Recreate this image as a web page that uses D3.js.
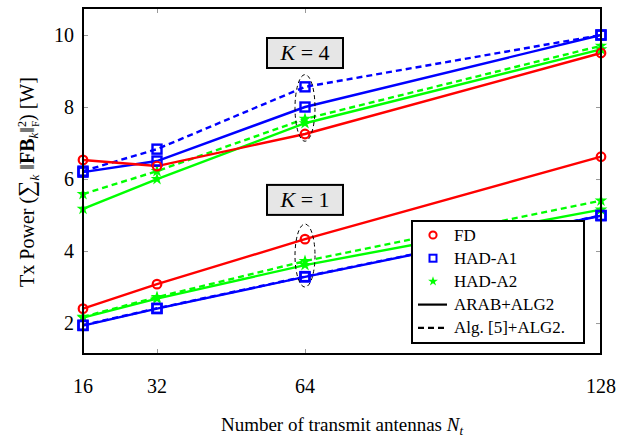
<!DOCTYPE html>
<html lang="en">
  <head>
    <meta charset="UTF-8" />
    <title>Tx power vs antennas</title>
    <script src="https://d3js.org/d3.v7.min.js"></script>
    <style>
      body { margin: 0; background: #fff; }
    </style>
  </head>
  <body>
    <svg width="630" height="440" font-family="'Liberation Serif', 'Times New Roman', serif"></svg>
    <script>
      // data
      const antennas = [16, 32, 64, 128];
      const xTicks = [16, 32, 64, 128];
      const yTicks = [2, 4, 6, 8, 10];

      // K = 4
      const fdK4 = [6.53, 6.36, 7.25, 9.5];
      const a1ArabK4 = [6.19, 6.5, 8.0, 10.0];
      const a1AlgK4 = [6.22, 6.83, 8.56, 10.0];
      const a2ArabK4 = [5.17, 6.0, 7.55, 9.6];
      const a2AlgK4 = [5.58, 6.22, 7.67, 9.7];
      // K = 1
      const fdK1 = [2.4, 3.08, 4.33, 6.62];
      const a1ArabK1 = [1.93, 2.4, 3.28, 4.98];
      const a1AlgK1 = [1.94, 2.41, 3.29, 4.99];
      const a2ArabK1 = [2.15, 2.68, 3.61, 5.15];
      const a2AlgK1 = [2.17, 2.72, 3.72, 5.4];

      const legendLabels = ["FD", "HAD-A1", "HAD-A2", "ARAB+ALG2", "Alg. [5]+ALG2."];

      const series = [
        { v: a2AlgK4, color: "#00ff00", mark: "star", dash: true },
        { v: a2ArabK4, color: "#00ff00", mark: "star", dash: false },
        { v: a1AlgK4, color: "#0000ff", mark: "square", dash: true },
        { v: a1ArabK4, color: "#0000ff", mark: "square", dash: false },
        { v: fdK4, color: "#ff0000", mark: "circle", dash: false },
        { v: a2AlgK1, color: "#00ff00", mark: "star", dash: true },
        { v: a2ArabK1, color: "#00ff00", mark: "star", dash: false },
        { v: a1AlgK1, color: "#0000ff", mark: "square", dash: true },
        { v: a1ArabK1, color: "#0000ff", mark: "square", dash: false },
        { v: fdK1, color: "#ff0000", mark: "circle", dash: false },
      ];

      const svg = d3.select("svg");
      const mLeft = 83, mTop = 8, w = 518, h = 346;

      const x = d3.scaleLinear().domain([16, 128]).range([mLeft, mLeft + w]);
      const y = d3.scaleLinear().domain([1.14, 10.75]).range([mTop + h, mTop]);

      //ticks (inside, gray) on all sides
      const ax = svg.append("g");
      ax.append("g")
        .attr("transform", `translate(0,${mTop + h})`)
        .call(d3.axisBottom(x).tickValues(xTicks).tickSize(-5).tickFormat(""));
      ax.append("g")
        .attr("transform", `translate(0,${mTop})`)
        .call(d3.axisTop(x).tickValues(xTicks).tickSize(-5).tickFormat(""));
      ax.append("g")
        .attr("transform", `translate(${mLeft},0)`)
        .call(d3.axisLeft(y).tickValues(yTicks).tickSize(-5).tickFormat(""));
      ax.append("g")
        .attr("transform", `translate(${mLeft + w},0)`)
        .call(d3.axisRight(y).tickValues(yTicks).tickSize(-5).tickFormat(""));
      ax.selectAll(".domain").remove();
      ax.selectAll(".tick line").attr("stroke", "#999").attr("stroke-width", 1);

      // tick labels
      svg.append("g").selectAll("text").data(xTicks).join("text")
        .attr("x", (d) => x(d)).attr("y", 393)
        .attr("text-anchor", "middle")
        .attr("font-size", 20)
        .text((d) => d);
      svg.append("g").selectAll("text").data(yTicks).join("text")
        .attr("x", 74).attr("y", (d) => y(d) + 6.5)
        .attr("text-anchor", "end")
        .attr("font-size", 20)
        .text((d) => d);

      // lines
      const line = d3.line().x((d, i) => x(antennas[i])).y((d) => y(d));
      const plot = svg.append("g");
      series.forEach((s) => {
        plot.append("path")
          .attr("d", line(s.v))
          .attr("fill", "none")
          .attr("stroke", s.color)
          .attr("stroke-width", 2.4)
          .attr("stroke-dasharray", s.dash ? "6,4" : null);
      });

      function drawMark(g, kind, color, cx, cy) {
        if (kind === "circle") {
          g.append("circle").attr("cx", cx).attr("cy", cy).attr("r", 4.3)
            .attr("fill", "none").attr("stroke", color).attr("stroke-width", 2.2);
        } else if (kind === "square") {
          g.append("rect").attr("x", cx - 4.5).attr("y", cy - 4.5)
            .attr("width", 9).attr("height", 9)
            .attr("fill", "none").attr("stroke", color).attr("stroke-width", 2.4);
        } else {
          g.append("path")
            .attr("d", d3.symbol(d3.symbolStar, 50)())
            .attr("transform", `translate(${cx},${cy})`)
            .attr("fill", color);
        }
      }
      series.forEach((s) => {
        s.v.forEach((d, i) => drawMark(plot, s.mark, s.color, x(antennas[i]), y(d)));
      });

      // dashed ellipses at Nt = 64
      const ellipses = [[7.05, 8.9], [3.0, 4.75]];
      svg.append("g").selectAll("ellipse").data(ellipses).join("ellipse")
        .attr("cx", x(64))
        .attr("cy", (d) => (y(d[0]) + y(d[1])) / 2)
        .attr("rx", 10)
        .attr("ry", (d) => (y(d[0]) - y(d[1])) / 2)
        .attr("fill", "none")
        .attr("stroke", "#000")
        .attr("stroke-width", 1)
        .attr("stroke-dasharray", "4,3");

      // K labels
      const kBoxes = [{ k: 4, v: 9.5 }, { k: 1, v: 5.42 }];
      kBoxes.forEach((b) => {
        const cx = x(64), cy = y(b.v);
        svg.append("rect")
          .attr("x", cx - 38).attr("y", cy - 15)
          .attr("width", 76).attr("height", 30)
          .attr("fill", "#e6e6e6").attr("stroke", "#000").attr("stroke-width", 2);
        const t = svg.append("text")
          .attr("x", cx).attr("y", cy + 7)
          .attr("text-anchor", "middle")
          .attr("font-size", 22);
        t.append("tspan").attr("font-style", "italic").text("K");
        t.append("tspan").text(" = " + b.k);
      });

      // frame
      svg.append("rect")
        .attr("x", mLeft).attr("y", mTop).attr("width", w).attr("height", h)
        .attr("fill", "none").attr("stroke", "#000").attr("stroke-width", 2);

      // legend
      const lg = svg.append("g").attr("transform", "translate(412,221)");
      lg.append("rect").attr("width", 172).attr("height", 122)
        .attr("fill", "#fff").attr("stroke", "#000").attr("stroke-width", 2);
      const legendMarks = [
        { kind: "circle", color: "#ff0000" },
        { kind: "square", color: "#0000ff" },
        { kind: "star", color: "#00ff00" },
        { kind: "solid" },
        { kind: "dashed" },
      ];
      legendLabels.forEach((lab, i) => {
        const ly = 14 + i * 23.2;
        const m = legendMarks[i];
        if (m.kind === "solid" || m.kind === "dashed") {
          lg.append("line").attr("x1", 6).attr("x2", 35).attr("y1", ly).attr("y2", ly)
            .attr("stroke", "#000").attr("stroke-width", 2.2)
            .attr("stroke-dasharray", m.kind === "dashed" ? "6,4" : null);
        } else {
          const mg = lg.append("g");
          if (m.kind === "circle") {
            mg.append("circle").attr("cx", 21).attr("cy", ly).attr("r", 3.6)
              .attr("fill", "none").attr("stroke", m.color).attr("stroke-width", 2);
          } else if (m.kind === "square") {
            mg.append("rect").attr("x", 17.5).attr("y", ly - 3.5).attr("width", 7).attr("height", 7)
              .attr("fill", "none").attr("stroke", m.color).attr("stroke-width", 2);
          } else {
            mg.append("path").attr("d", d3.symbol(d3.symbolStar, 30)())
              .attr("transform", `translate(21,${ly})`).attr("fill", m.color);
          }
        }
        lg.append("text").attr("x", 42).attr("y", ly + 5.5)
          .attr("font-size", 17).text(lab);
      });

      // axis titles
      const xl = svg.append("text")
        .attr("x", 342).attr("y", 431)
        .attr("text-anchor", "middle")
        .attr("font-size", 19);
      xl.append("tspan").text("Number of transmit antennas ");
      xl.append("tspan").attr("font-style", "italic").text("N");
      xl.append("tspan").attr("font-style", "italic").attr("font-size", 13).attr("dy", 4).text("t");

      const yl = svg.append("text")
        .attr("transform", "translate(34,182) rotate(-90)")
        .attr("text-anchor", "middle")
        .attr("font-size", 20);
      yl.append("tspan").text("Tx Power (");
      yl.append("tspan").attr("font-size", 23).text("∑");
      yl.append("tspan").attr("font-size", 13).attr("font-style", "italic").attr("dy", 5).text("k");
      yl.append("tspan").attr("dy", -5).text(" ‖");
      yl.append("tspan").attr("font-weight", "bold").text("FB");
      yl.append("tspan").attr("font-size", 13).attr("font-style", "italic").attr("dy", 4).text("k");
      yl.append("tspan").attr("dy", -4).text("‖");
      yl.append("tspan").attr("font-size", 12).attr("dy", -8).text("2");
      yl.append("tspan").attr("font-size", 11).attr("dx", -6).attr("dy", 13).text("F");
      yl.append("tspan").attr("dy", -5).text(") [W]");
    </script>
  </body>
</html>
